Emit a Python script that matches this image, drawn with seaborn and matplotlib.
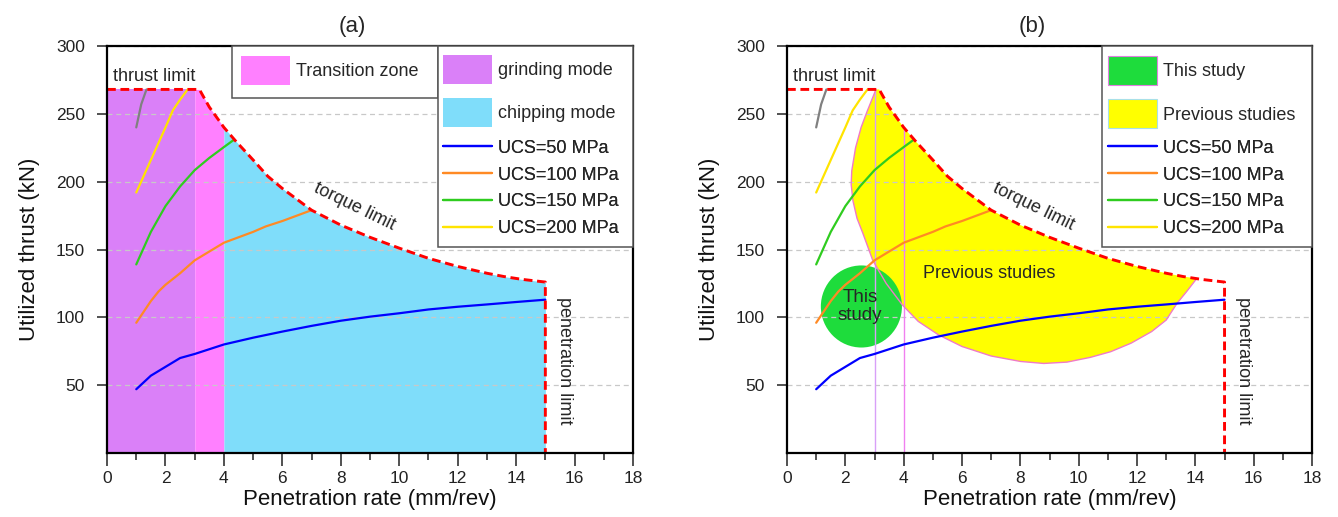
import numpy as np
import pandas as pd
import matplotlib
matplotlib.use("Agg")
import matplotlib.pyplot as plt
import seaborn as sns
from matplotlib.patches import Patch, Rectangle, Ellipse
from matplotlib.lines import Line2D

# ---------------- data ----------------
# machine limits (thrust limit + torque limit), mm/rev vs kN
limit_x = [0, 3, 3.16, 3.5, 4, 4.4, 5, 5.5, 6, 7, 8, 9, 10, 11, 12, 13, 13.6, 14.2, 15]
limit_y = [268, 268, 268, 255, 240, 230, 216, 204, 195, 179, 168, 159, 151, 143.5, 137.5, 132.5, 130, 128, 126]
pen_x = [15, 15]
pen_y = [126, 0]

# zone boundaries (mm/rev)
zone_bounds = [3, 4]
pen_limit = 15

# thrust curves for different UCS
ucs50_x = [1, 1.5, 2, 2.5, 3, 4, 5, 6, 7, 8, 9, 10, 11, 12, 13, 14, 15]
ucs50_y = [47, 57, 63.5, 70, 73, 80, 85, 89.5, 93.7, 97.5, 100.5, 103, 105.8, 107.8, 109.5, 111.3, 113]
ucs100_x = [1, 1.5, 1.76, 2, 2.5, 3, 4, 5, 5.43, 6, 7]
ucs100_y = [96, 112, 119, 124, 132.5, 142, 155, 163, 167, 171, 179]
ucs150_x = [1, 1.5, 2, 2.5, 3, 3.5, 4, 4.35]
ucs150_y = [139, 163, 182, 196.5, 208.5, 217.5, 225.5, 231]
ucs200_x = [1, 1.5, 2, 2.25, 2.5, 2.76]
ucs200_y = [192, 216, 240, 252.5, 260.5, 268]
ucs250_x = [1, 1.17, 1.35]
ucs250_y = [240, 257, 268]

series_names = ["UCS=50 MPa", "UCS=100 MPa", "UCS=150 MPa", "UCS=200 MPa", "UCS=250 MPa"]
series_colors = ["#0000FF", "#FF8A24", "#2FCC1F", "#FFE400", "#808080"]

# previous studies region: lower/left boundary arc
prev_arc_x = [3.05, 2.75, 2.54, 2.35, 2.22, 2.2, 2.26, 2.4, 2.6, 2.94, 3.4, 3.96, 4.5, 5.2, 6, 7, 8, 8.8,
              9.6, 10.4, 11.1, 11.8, 12.5, 13.0, 13.37, 13.7, 14.05]
prev_arc_y = [268, 252, 240, 225, 208, 198, 186, 173, 162, 142, 125, 109, 97, 87, 78.5, 71.5, 67.5, 66,
              67, 70.5, 74.7, 81, 89.5, 98, 110.3, 119, 128.7]

# this study region (centre, x-diameter, y-diameter)
this_center = (2.55, 108)
this_size = (2.78, 60.5)

# ---------------- style ----------------
sns.set_theme(style="white")
plt.rcParams['font.family'] = ['Liberation Sans', 'DejaVu Sans']

fig = plt.figure(figsize=(13.38, 5.17), dpi=100)
axA = fig.add_axes([0.0800, 0.1238, 0.3931, 0.7872])
axB = fig.add_axes([0.5882, 0.1238, 0.3924, 0.7872])

C_GRIND = "#DA80F8"
C_TRANS = "#FF80FF"
C_CHIP = "#7FDDFA"
C_THIS = "#1EDC3C"
C_PREV = "#FFFF00"

curves = pd.concat([
    pd.DataFrame({"x": xs, "y": ys, "series": name})
    for xs, ys, name in zip([ucs50_x, ucs100_x, ucs150_x, ucs200_x, ucs250_x],
                            [ucs50_y, ucs100_y, ucs150_y, ucs200_y, ucs250_y],
                            series_names)
], ignore_index=True)
palette = dict(zip(series_names, series_colors))

lx = np.array(limit_x)
ly = np.array(limit_y)


def style(ax, title, tx):
    ax.set_xlim(0, 18)
    ax.set_ylim(0, 300)
    ax.set_xticks(range(0, 19, 2))
    ax.set_xticks(range(1, 18, 2), minor=True)
    ax.set_yticks(range(50, 301, 50))
    ax.tick_params(axis='x', which='major', bottom=True, direction='out', length=9, width=1.2,
                   pad=4, labelsize=12.5, color='#333333', labelcolor='#222222')
    ax.tick_params(axis='x', which='minor', bottom=True, direction='out', length=5, width=1.2,
                   color='#333333')
    ax.tick_params(axis='y', which='major', left=True, direction='out', length=7, width=1.2,
                   pad=9, labelsize=12.5, color='#333333', labelcolor='#222222')
    for s in ax.spines.values():
        s.set_linewidth(1.6)
        s.set_color('black')
        s.set_zorder(3.8)
    ax.yaxis.grid(True, linestyle=(0, (4, 3)), color='#C8C8C8', lw=0.9)
    ax.xaxis.grid(False)
    ax.set_axisbelow(False)
    ax.set_xlabel('Penetration rate (mm/rev)', fontsize=16, labelpad=2, color='#111111')
    ax.set_ylabel('Utilized thrust (kN)', fontsize=16, labelpad=11, color='#111111')
    ax.set_title(title, fontsize=16, x=tx, pad=10)


def draw_common(ax):
    sns.lineplot(data=curves, x="x", y="y", hue="series", palette=palette, ax=ax,
                 legend=False, sort=False, estimator=None, lw=1.6, zorder=3)
    ax.plot(list(limit_x) + pen_x[1:], list(limit_y) + pen_y[1:], color='#FF0000', lw=2.1,
            dashes=(3, 1.6), zorder=3.5, solid_capstyle='butt')
    ax.text(0.2, 274.5, 'thrust limit', fontsize=13, ha='left', va='baseline', zorder=4)
    ax.text(8.45, 181.5, 'torque limit', fontsize=13, rotation=-26, rotation_mode='anchor',
            ha='center', va='center', zorder=4)
    ax.text(15.65, 68, 'penetration limit', fontsize=13, rotation=-90, ha='center',
            va='center', zorder=4)


def add_frame(ax, x0, y0, x1, y1):
    ax.add_patch(Rectangle((x0, y0), x1 - x0, y1 - y0, transform=ax.transAxes,
                           facecolor='white', edgecolor='#555555', lw=1.1, zorder=5,
                           clip_on=False))


def add_legend(ax, handles, anchor, **kw):
    leg = ax.legend(handles=handles, loc='upper left', bbox_to_anchor=anchor,
                    bbox_transform=ax.transAxes, frameon=False, fontsize=13, borderpad=0,
                    borderaxespad=0, handletextpad=0.35, handlelength=2.7, **kw)
    leg.set_zorder(6)
    ax.add_artist(leg)
    return leg


line_handles = [Line2D([], [], color=c, lw=1.6, label=n)
                for n, c in zip(series_names[:4], series_colors[:4])]

# ---------------- panel (a) ----------------
axA.fill_between(lx, ly, where=lx <= zone_bounds[0], color=C_GRIND, lw=0, zorder=1)
axA.fill_between(lx, ly, where=(lx >= zone_bounds[0]) & (lx <= zone_bounds[1]), color=C_TRANS,
                 lw=0, zorder=1)
axA.fill_between(lx, ly, where=(lx >= zone_bounds[1]) & (lx <= pen_limit), color=C_CHIP, lw=0,
                 zorder=1)
draw_common(axA)
style(axA, '(a)', 0.467)

add_frame(axA, 0.238, 0.872, 0.629, 1.0)
add_legend(axA, [Patch(facecolor=C_TRANS, edgecolor='none', label='Transition zone')],
           (0.255, 0.975), handleheight=2.1)
add_frame(axA, 0.629, 0.506, 1.0, 1.0)
add_legend(axA, [Patch(facecolor=C_GRIND, edgecolor='none', label='grinding mode'),
                 Patch(facecolor=C_CHIP, edgecolor='none', label='chipping mode')],
           (0.639, 0.978), handleheight=2.1, labelspacing=0.78)
add_legend(axA, line_handles, (0.639, 0.770), labelspacing=0.55)

# ---------------- panel (b) ----------------
inside = (lx > prev_arc_x[0]) & (lx < prev_arc_x[-1])
poly_x = list(prev_arc_x) + list(lx[inside][::-1])
poly_y = list(prev_arc_y) + list(ly[inside][::-1])
axB.fill(poly_x, poly_y, color=C_PREV, lw=0, zorder=1)
axB.plot(prev_arc_x, prev_arc_y, color='#F07AC8', lw=1.0, zorder=2.7)
axB.add_patch(Ellipse(this_center, this_size[0], this_size[1], facecolor=C_THIS,
                      edgecolor='none', zorder=1.5))
tops = np.interp(zone_bounds, lx, ly)
axB.vlines(zone_bounds, 0, tops, colors=['#D8A0F8', '#F080F0'], lw=1.0, zorder=2.6)
draw_common(axB)
axB.text(6.93, 132, 'Previous studies', fontsize=13, ha='center', va='center', zorder=4)
axB.text(this_center[0] - 0.05, this_center[1], 'This\nstudy', fontsize=13.5, ha='center',
         va='center', linespacing=1.15, zorder=4)
style(axB, '(b)', 0.467)

add_frame(axB, 0.6, 0.506, 1.0, 1.0)
add_legend(axB, [Patch(facecolor=C_THIS, edgecolor='#E080E0', lw=0.8, label='This study'),
                 Patch(facecolor=C_PREV, edgecolor='#A8E0E8', lw=0.8, label='Previous studies')],
           (0.611, 0.975), handleheight=2.1, labelspacing=0.78)
add_legend(axB, line_handles, (0.611, 0.770), labelspacing=0.55)

fig.savefig("out.png", dpi=100)
